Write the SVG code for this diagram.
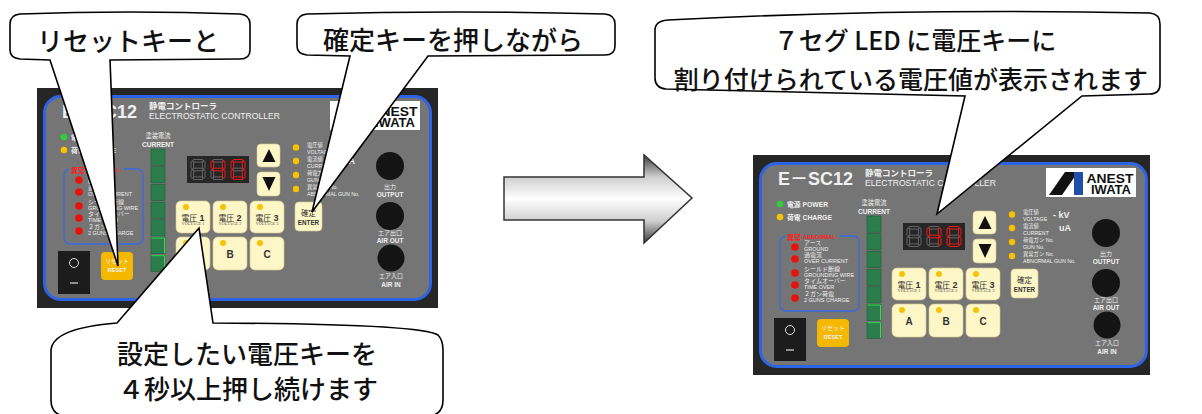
<svg xmlns="http://www.w3.org/2000/svg" width="1202" height="414" viewBox="0 0 1202 414">
<style>
  .t{font-family:"Liberation Sans","Noto Sans CJK JP",sans-serif;fill:#f0f0f0}
  .b{font-weight:bold}
  .mid{text-anchor:middle}
  .callout{fill:#fff;stroke:#000;stroke-width:1.6;stroke-linejoin:miter}
  .ct{font-family:"Noto Sans CJK JP",sans-serif;font-size:26px;font-weight:500;fill:#111;text-anchor:middle}
  .key{fill:#fdf6c6;stroke:#d6cc96;stroke-width:0.6}
  .led-y{fill:#f7c200}
  .led-r{fill:#e8120c}
  .knob{fill:#141414}
  .cell{fill:#2b7d4c;stroke:#1f5e38;stroke-width:0.6}
  .off{stroke:#6b6b6b}
  .on{stroke:#ff1a1a}
  .kl{font-family:"Liberation Sans","Noto Sans CJK JP",sans-serif;fill:#333;text-anchor:middle}
  .vs{font-family:"Liberation Serif",serif;fill:#555;text-anchor:middle;font-size:4.3px}
  .frame{fill:#262626}
</style>
<defs>
  <linearGradient id="arrowShade" gradientUnits="userSpaceOnUse" x1="0" y1="155" x2="0" y2="243">
    <stop offset="0" stop-color="#3c3c3c"/>
    <stop offset="0.25" stop-color="#cfcfcf"/>
    <stop offset="0.5" stop-color="#ffffff"/>
    <stop offset="0.75" stop-color="#cfcfcf"/>
    <stop offset="1" stop-color="#3c3c3c"/>
  </linearGradient>

  <!-- seven-segment pieces, digit cell 14 x 20 -->
  <rect id="sa" x="2" y="0" width="10" height="2.6" rx="0.8" fill="none" stroke-width="0.9"/>
  <rect id="sb" x="11.4" y="1.5" width="2.6" height="8" rx="0.8" fill="none" stroke-width="0.9"/>
  <rect id="sc" x="11.4" y="10.5" width="2.6" height="8" rx="0.8" fill="none" stroke-width="0.9"/>
  <rect id="sd" x="2" y="17.4" width="10" height="2.6" rx="0.8" fill="none" stroke-width="0.9"/>
  <rect id="se" x="0" y="10.5" width="2.6" height="8" rx="0.8" fill="none" stroke-width="0.9"/>
  <rect id="sf" x="0" y="1.5" width="2.6" height="8" rx="0.8" fill="none" stroke-width="0.9"/>
  <rect id="sg" x="2" y="8.7" width="10" height="2.6" rx="0.8" fill="none" stroke-width="0.9"/>

  <!-- front face of the E-SC12 controller, local coordinates -->
  <g id="face">
    <rect x="7.5" y="8.5" width="386" height="203" rx="16" fill="#757575" stroke="#2e63e6" stroke-width="3"/>

    <text class="t b" x="25" y="30" font-size="18">E－SC12</text>
    <text class="t b" x="112" y="21" font-size="8.5">静電コントローラ</text>
    <text class="t" x="112" y="31" font-size="9" textLength="131" lengthAdjust="spacingAndGlyphs">ELECTROSTATIC CONTROLLER</text>

    <!-- logo -->
    <rect x="293" y="13" width="90" height="29" fill="#fff"/>
    <polygon points="296,40 309,40 325,17 312,17" fill="#111"/>
    <rect x="321" y="17" width="9" height="23" fill="#1f4fa8"/>
    <text x="357" y="28.3" font-family="Liberation Sans, sans-serif" font-weight="bold" font-size="13.5" fill="#111" text-anchor="middle" textLength="47" lengthAdjust="spacingAndGlyphs">ANEST</text>
    <text x="358" y="39" font-family="Liberation Sans, sans-serif" font-weight="bold" font-size="13.5" fill="#111" text-anchor="middle" textLength="40" lengthAdjust="spacingAndGlyphs">IWATA</text>

    <!-- power / charge lamps -->
    <circle cx="27" cy="49" r="3.3" fill="#2fcf3a"/>
    <circle cx="27" cy="62" r="3.3" class="led-y"/>
    <text class="t b" x="34" y="52" font-size="6.8">電源 POWER</text>
    <text class="t b" x="34" y="65" font-size="6.8">荷電 CHARGE</text>

    <!-- alarm block -->
    <rect x="27" y="81" width="79" height="75" rx="6" fill="none" stroke="#3a6ae0" stroke-width="1.3"/>
    <rect x="32" y="77" width="55" height="8" fill="#757575"/>
    <text x="34" y="84.5" font-family="Liberation Sans, Noto Sans CJK JP, sans-serif" font-weight="bold" font-size="7" fill="#ff2020">異常</text>
    <text x="50" y="84" font-family="Liberation Sans, sans-serif" font-weight="bold" font-size="5.6" fill="#ff2020">ABNORMAL</text>

    <circle cx="42" cy="92" r="3.8" class="led-r"/>
    <circle cx="42" cy="104" r="3.8" class="led-r"/>
    <circle cx="42" cy="118" r="3.8" class="led-r"/>
    <circle cx="42" cy="130" r="3.8" class="led-r"/>
    <circle cx="42" cy="143" r="3.8" class="led-r"/>
    <text class="t" x="51" y="90.3" font-size="6">アース</text>
    <text class="t" x="51" y="96.3" font-size="5.5">GROUND</text>
    <text class="t" x="51" y="102.3" font-size="6">過電流</text>
    <text class="t" x="51" y="108.3" font-size="5.5">OVER CURRENT</text>
    <text class="t" x="51" y="116.3" font-size="6">シールド断線</text>
    <text class="t" x="51" y="122.3" font-size="5.5">GROUNDING WIRE</text>
    <text class="t" x="51" y="128.3" font-size="6">タイムオーバー</text>
    <text class="t" x="51" y="134.3" font-size="5.5">TIME OVER</text>
    <text class="t" x="51" y="141.3" font-size="6">２ガン荷電</text>
    <text class="t" x="51" y="147.3" font-size="5.5">2 GUNS CHARGE</text>

    <!-- power switch and reset -->
    <rect x="21" y="163" width="32" height="43" fill="#1c1c1c"/>
    <circle cx="37" cy="175" r="4.5" fill="none" stroke="#ddd" stroke-width="1"/>
    <line x1="33" y1="195" x2="41" y2="195" stroke="#ddd" stroke-width="1.2"/>
    <rect x="64" y="164" width="32" height="28" rx="4" fill="#f5b800"/>
    <text class="t mid" x="80" y="174.5" font-size="6">リセット</text>
    <text class="t b mid" x="80" y="184" font-size="5.6">RESET</text>

    <!-- current bar -->
    <text class="t mid" x="121" y="49.5" font-size="6.3">塗装電流</text>
    <text class="t b mid" x="121" y="59" font-size="6.6">CURRENT</text>
    <rect class="cell" x="114" y="61" width="14" height="16.2"/>
    <rect class="cell" x="114" y="78.7" width="14" height="16.2"/>
    <rect class="cell" x="114" y="96.4" width="14" height="16.2"/>
    <rect class="cell" x="114" y="114.1" width="14" height="16.2"/>
    <rect class="cell" x="114" y="131.8" width="14" height="16.2"/>
    <rect class="cell" x="114" y="149.5" width="14" height="16.2"/>
    <rect class="cell" x="114" y="167.2" width="14" height="16.2"/>
    <polyline points="114.5,150 127.5,150 127.5,165.2" fill="none" stroke="#2ee04a" stroke-width="1"/>
    <polyline points="114.5,167.7 127.5,167.7 127.5,182.9" fill="none" stroke="#2ee04a" stroke-width="1"/>

    <!-- seven-segment display -->
    <rect x="150" y="68" width="62" height="27" fill="#262626"/>
    <g transform="translate(154,71.5)">
      <use href="#sa" class="off"/><use href="#sb" class="off"/><use href="#sc" class="off"/><use href="#sd" class="off"/>
      <use href="#se" class="off"/><use href="#sf" class="off"/><use href="#sg" class="off"/>
    </g>
    <g transform="translate(174,71.5)">
      <use href="#sa" class="off"/><use href="#sd" class="off"/><use href="#se" class="off"/>
      <use href="#sb" class="on"/><use href="#sc" class="on"/><use href="#sf" class="on"/><use href="#sg" class="on"/>
    </g>
    <g transform="translate(194,71.5)">
      <use href="#sg" class="off"/>
      <use href="#sa" class="on"/><use href="#sb" class="on"/><use href="#sc" class="on"/>
      <use href="#sd" class="on"/><use href="#se" class="on"/><use href="#sf" class="on"/>
    </g>

    <!-- up / down -->
    <rect class="key" x="220" y="56" width="23" height="23" rx="4"/>
    <polygon points="225.5,74 238.5,74 232,61" fill="#111"/>
    <rect class="key" x="220" y="84" width="23" height="24" rx="4"/>
    <polygon points="225.5,89 238.5,89 232,103" fill="#111"/>

    <!-- voltage preset keys -->
    <rect class="key" x="139" y="113" width="34" height="32" rx="5"/>
    <circle cx="149" cy="119" r="3" class="led-y"/>
    <text class="kl" x="156" y="132.5" font-size="8">電圧 <tspan font-size="9" font-weight="bold">1</tspan></text>
    <text class="vs" x="156" y="137">VOLTAGE 1</text>
    <rect class="key" x="176" y="113" width="34" height="32" rx="5"/>
    <circle cx="186" cy="119" r="3" class="led-y"/>
    <text class="kl" x="193" y="132.5" font-size="8">電圧 <tspan font-size="9" font-weight="bold">2</tspan></text>
    <text class="vs" x="193" y="137">VOLTAGE 2</text>
    <rect class="key" x="213" y="113" width="34" height="32" rx="5"/>
    <circle cx="223" cy="119" r="3" class="led-y"/>
    <text class="kl" x="230" y="132.5" font-size="8">電圧 <tspan font-size="9" font-weight="bold">3</tspan></text>
    <text class="vs" x="230" y="137">VOLTAGE 3</text>

    <rect class="key" x="139" y="149" width="34" height="33" rx="5"/>
    <circle cx="149" cy="155" r="3" class="led-y"/>
    <text class="kl b" x="156" y="170" font-size="10">A</text>
    <rect class="key" x="176" y="149" width="34" height="33" rx="5"/>
    <circle cx="186" cy="155" r="3" class="led-y"/>
    <text class="kl b" x="193" y="170" font-size="10">B</text>
    <rect class="key" x="213" y="149" width="34" height="33" rx="5"/>
    <circle cx="223" cy="155" r="3" class="led-y"/>
    <text class="kl b" x="230" y="170" font-size="10">C</text>

    <!-- enter -->
    <rect class="key" x="258" y="114" width="27" height="29" rx="4"/>
    <text class="kl" x="271.5" y="127.5" font-size="7.5">確定</text>
    <text class="kl b" x="271.5" y="136.5" font-size="6.3">ENTER</text>

    <!-- indicator lamps -->
    <circle cx="259" cy="59.5" r="3.2" class="led-y"/>
    <circle cx="259" cy="73" r="3.2" class="led-y"/>
    <circle cx="259" cy="87" r="3.2" class="led-y"/>
    <circle cx="259" cy="101" r="3.2" class="led-y"/>
    <text class="t" x="270" y="59" font-size="5.3">電圧値</text>
    <text class="t" x="270" y="66" font-size="5.3">VOLTAGE</text>
    <text class="t" x="270" y="72.5" font-size="5.3">電流値</text>
    <text class="t" x="270" y="79.5" font-size="5.3">CURRENT</text>
    <text class="t" x="270" y="86.5" font-size="5.3">荷電ガン No.</text>
    <text class="t" x="270" y="93.5" font-size="5.3">GUN No.</text>
    <text class="t" x="270" y="100.5" font-size="5.3">異常ガン No.</text>
    <text class="t" x="270" y="107.5" font-size="5.3">ABNORMAL GUN No.</text>
    <text class="t b" x="300" y="62.5" font-size="9">- kV</text>
    <text class="t b" x="306" y="75.5" font-size="9">uA</text>

    <!-- air / output knobs -->
    <circle cx="353" cy="78" r="14" class="knob"/>
    <text class="t mid" x="353" y="101" font-size="6">出力</text>
    <text class="t b mid" x="353" y="109" font-size="6.5">OUTPUT</text>
    <circle cx="353" cy="128" r="14" class="knob"/>
    <text class="t mid" x="353" y="147" font-size="6">エア出口</text>
    <text class="t b mid" x="353" y="155" font-size="6.5">AIR OUT</text>
    <circle cx="354" cy="170" r="13.5" class="knob"/>
    <text class="t mid" x="354" y="190" font-size="6">エア入口</text>
    <text class="t b mid" x="354" y="199" font-size="6.5">AIR IN</text>
  </g>
</defs>

<rect width="1202" height="414" fill="#fff"/>

<!-- controller before the change -->
<g id="panel-before">
  <rect class="frame" x="37" y="88" width="401" height="220"/>
  <use href="#face" transform="translate(37,88)"/>
</g>

<!-- controller after the change -->
<g id="panel-after">
  <rect class="frame" x="753" y="155" width="397" height="220"/>
  <use href="#face" transform="translate(753,155)"/>
</g>

<!-- transition arrow -->
<g id="arrow">
  <polygon points="504,177 644,177 644,155 692,198 644,243 644,220 504,220" fill="url(#arrowShade)" stroke="#333" stroke-width="1.5"/>
</g>

<!-- speech bubbles with their pointers -->
<g id="callouts">
  <g id="callout-reset">
    <path class="callout" d="M 20,14 Q 130,10 240,14 Q 250,15 250,24 L 250,50 Q 250,59 240,59 L 110,60 L 118,266 L 50,60 L 20,59 Q 10,58 10,50 L 10,24 Q 10,15 20,14 Z"/>
    <text class="ct" x="128" y="51">リセットキーと</text>
  </g>
  <g id="callout-enter">
    <path class="callout" d="M 307,14 Q 456,10 605,14 Q 615,15 615,24 L 615,46 Q 615,55 605,55 L 428,56 L 312,212 L 350,56 L 307,55 Q 297,54 297,46 L 297,24 Q 297,15 307,14 Z"/>
    <text class="ct" x="453" y="50">確定キーを押しながら</text>
  </g>
  <g id="callout-voltage">
    <path class="callout" d="M 51,350 Q 53,328 117,323 L 199,228 L 213,323 Q 420,324 438,335 Q 443,340 443,350 L 443,400 Q 443,414 430,416 L 64,416 Q 51,414 51,400 Z"/>
    <text class="ct" x="247" y="364">設定したい電圧キーを</text>
    <text class="ct" x="248" y="399">４秒以上押し続けます</text>
  </g>
  <g id="callout-display">
    <path class="callout" d="M 668,20 Q 900,8 1150,13 Q 1160,14 1160,24 L 1160,84 Q 1160,94 1150,94 L 1082,96 L 937,214 L 965,96 L 666,89 Q 655,88 655,78 L 655,30 Q 655,21 668,20 Z"/>
    <text class="ct" x="915" y="50" style="font-size:25px">７セグ LED に電圧キーに</text>
    <text class="ct" x="911" y="89" style="font-size:25px">割り付けられている電圧値が表示されます</text>
  </g>
</g>
</svg>
